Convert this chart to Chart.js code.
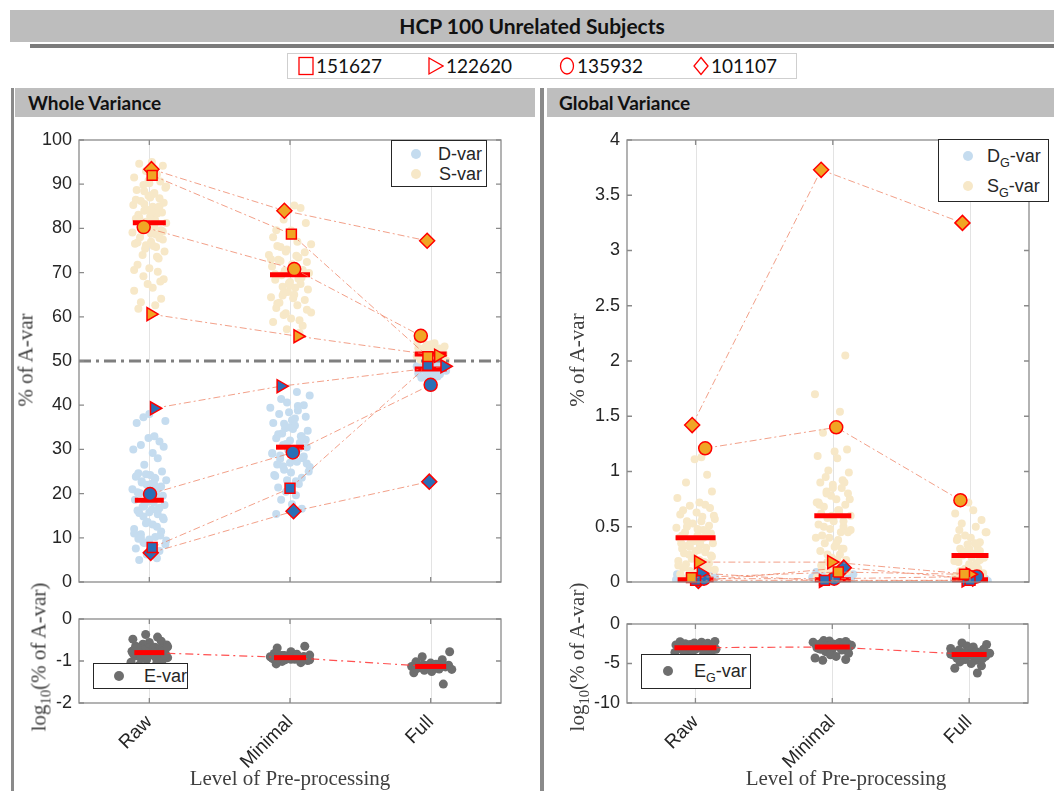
<!DOCTYPE html>
<html>
<head>
<meta charset="utf-8">
<script src="https://cdn.jsdelivr.net/npm/chart.js@4.4.1/dist/chart.umd.min.js"></script>
<style>
  body { margin: 0; width: 1054px; height: 791px; overflow: hidden; background: #fff; position: relative;
         font-family: "Liberation Sans", Arial, sans-serif; color: #262626; }
  .abs { position: absolute; }
  #title { left: 10px; top: 10px; width: 1044px; height: 32px; background: #bdbdbd; text-align: center;
           font: bold 21px Lato, sans-serif; line-height: 32px; color: #111; }
  #titleRule { left: 30px; top: 44px; width: 1024px; height: 4px; background: #7b7b7b; }
  #subjects { left: 287px; top: 53px; width: 508px; height: 24px; border: 1px solid #cfcfcf; background: #fff; }
  .subj { position: absolute; top: 1px; font: 19px Lato, sans-serif; line-height: 22px; display: flex; align-items: center; gap: 2px; color: #111; }
  .side { top: 88px; height: 703px; background: #8a8a8a; }
  .head { top: 88px; height: 29px; background: #bebebe; font: bold 19px Lato, sans-serif; line-height: 29px; color: #111; }
  .ytitle { font: 21px "Liberation Serif", serif; color: #404040; white-space: nowrap; transform: translate(-50%, -50%) rotate(-90deg); }
  .xtitle { font: 21px "Liberation Serif", serif; color: #404040; white-space: nowrap; transform: translate(-50%, -50%); }
  .lg { background: #fff; border: 1px solid #262626; box-sizing: border-box; }
  .lg .dot { position: absolute; width: 10px; height: 10px; border-radius: 50%; }
  .lg .txt { position: absolute; font-size: 18px; line-height: 20px; white-space: nowrap; }
  sub { font-size: 70%; vertical-align: -5px; line-height: 0; }
</style>
</head>
<body>
<div id="title" class="abs">HCP 100 Unrelated Subjects</div>
<div id="titleRule" class="abs"></div>
<div id="subjects" class="abs">
  <div class="subj" style="left:10px"><svg width="16" height="20"><rect x="1" y="1.5" width="14" height="17" fill="none" stroke="#f00" stroke-width="1.3"/></svg>151627</div>
  <div class="subj" style="left:140px"><svg width="16" height="20"><polygon points="1,2 15,10 1,18" fill="none" stroke="#f00" stroke-width="1.3"/></svg>122620</div>
  <div class="subj" style="left:271px"><svg width="16" height="20"><ellipse cx="8" cy="10" rx="6.5" ry="8" fill="none" stroke="#f00" stroke-width="1.3"/></svg>135932</div>
  <div class="subj" style="left:405px"><svg width="16" height="20"><polygon points="8,1.5 15,10 8,18.5 1,10" fill="none" stroke="#f00" stroke-width="1.3"/></svg>101107</div>
</div>

<div class="abs side" style="left:11px;width:3px"></div>
<div class="abs side" style="left:540px;width:4px"></div>
<div class="abs head" style="left:15px;width:520px"><span style="margin-left:13px">Whole Variance</span></div>
<div class="abs head" style="left:547px;width:507px"><span style="margin-left:12px">Global Variance</span></div>

<div class="abs" style="left:0;top:115px"><canvas id="wholeTop" width="540" height="492"></canvas></div>
<div class="abs" style="left:0;top:598px"><canvas id="wholeLog" width="540" height="193"></canvas></div>
<div class="abs" style="left:545px;top:115px"><canvas id="globalTop" width="509" height="492"></canvas></div>
<div class="abs" style="left:545px;top:598px"><canvas id="globalLog" width="509" height="193"></canvas></div>

<div class="abs ytitle" style="left:26px;top:360px">% of A-var</div>
<div class="abs ytitle" style="left:39px;top:657px">log<sub>10</sub>(% of A-var)</div>
<div class="abs ytitle" style="left:577px;top:360px">% of A-var</div>
<div class="abs ytitle" style="left:577px;top:657px">log<sub>10</sub>(% of A-var)</div>
<div class="abs xtitle" style="left:290px;top:778px">Level of Pre-processing</div>
<div class="abs xtitle" style="left:846px;top:778px">Level of Pre-processing</div>

<div class="abs lg" style="left:391px;top:140px;width:96px;height:47px">
  <div class="dot" style="left:19px;top:8px;background:#c5dcef"></div><div class="txt" style="right:4px;top:3px">D-var</div>
  <div class="dot" style="left:19px;top:28px;background:#f7e8c8"></div><div class="txt" style="right:4px;top:23px">S-var</div>
</div>
<div class="abs lg" style="left:938px;top:139px;width:111px;height:63px">
  <div class="dot" style="left:24px;top:11px;background:#c5dcef"></div><div class="txt" style="left:48px;top:6px">D<sub>G</sub>-var</div>
  <div class="dot" style="left:24px;top:41px;background:#f7e8c8"></div><div class="txt" style="left:48px;top:36px">S<sub>G</sub>-var</div>
</div>
<div class="abs lg" style="left:93px;top:663px;width:95px;height:26px">
  <div class="dot" style="left:20px;top:7px;background:#6e6e6e"></div><div class="txt" style="left:50px;top:2px">E-var</div>
</div>
<div class="abs lg" style="left:641px;top:654px;width:110px;height:35px">
  <div class="dot" style="left:21px;top:11px;background:#6e6e6e"></div><div class="txt" style="left:52px;top:6px">E<sub>G</sub>-var</div>
</div>

<script>
const cats = ['Raw', 'Minimal', 'Full'];
const subjectIds = ['151627', '122620', '135932', '101107'];

// Whole variance: S-var and D-var, % of A-var
const sVarRaw = [95.0,94.6,94.2,93.0,92.2,91.5,90.6,90.2,89.8,89.2,88.7,88.0,87.4,86.8,86.2,85.8,85.3,84.9,84.4,84.0,83.6,83.1,82.7,82.2,81.8,81.2,80.7,80.1,79.6,79.1,78.6,78.0,77.5,77.0,76.5,76.0,75.4,74.8,74.0,73.2,71.8,71.0,70.2,69.2,68.5,67.4,66.6,65.9,64.1,63.3,62.6,61.8,
                 89.5,88.4,87.0,86.5,85.0,84.2,83.3,82.5,81.5,80.4,79.8,78.8,77.8,76.8,75.8,90.8,87.8,85.5,83.8,82.0,79.3,76.2,73.6,70.6,68.0];
const sVarMin = [85.2,84.6,82.0,81.2,79.6,79.5,78.0,77.0,76.4,75.8,75.2,74.6,74.0,73.4,72.9,72.4,71.9,71.4,70.9,70.4,69.9,69.4,68.9,68.4,67.9,67.4,66.8,66.2,65.6,65.0,64.4,63.8,63.2,62.6,62.0,61.0,60.4,59.6,58.8,58.0,57.2,56.4,
                 76.0,74.8,73.8,72.6,71.6,70.6,69.6,68.6,67.6,66.6,65.4,64.2,63.0,61.6,60.8,59.2,73.0,70.0,67.0,64.8];
const sVarFull = [54.4,54.0,53.6,53.3,53.0,52.8,52.5,52.3,52.1,51.9,51.7,51.5,51.3,51.1,50.9,50.7,50.5,50.3,50.1,49.9,
                  53.8,52.9,52.2,51.6,51.0,50.6,53.1,52.6,51.8,50.8];
const dVarRaw = [38.0,37.3,36.4,36.0,33.0,32.6,31.8,31.0,30.6,30.0,29.2,28.0,26.5,25.0,24.6,24.2,23.8,23.4,23.0,22.5,22.0,21.6,21.0,20.6,20.1,19.5,19.0,18.6,18.2,17.8,17.4,17.0,16.6,16.2,15.8,15.3,14.8,14.2,13.6,13.0,12.0,11.4,10.8,10.2,9.8,9.4,8.8,8.2,7.6,7.0,6.2,5.4,5.0,
                 24.4,23.6,22.8,22.2,21.3,20.3,19.8,18.9,18.0,17.2,16.4,15.6,14.6,13.3,12.5,11.0,10.5,9.6,9.0,8.5,24.0,22.0,18.4,16.8,10.0];
const dVarMin = [43.0,42.2,41.4,40.6,40.0,39.4,38.8,38.0,37.4,36.6,36.0,35.4,34.8,34.2,33.6,33.0,32.5,32.0,31.5,31.0,30.5,30.0,29.5,29.0,28.4,27.8,27.2,26.6,26.0,25.4,24.8,24.2,23.6,23.0,22.2,21.4,20.4,19.6,18.6,17.6,16.6,15.4,
                 39.8,38.4,37.0,35.8,34.6,33.4,32.2,31.2,30.2,29.2,28.0,27.0,26.2,25.0,24.0,22.8,35.0,33.0,28.6,26.8];
const dVarFull = [50.0,49.8,49.6,49.4,49.2,49.0,48.8,48.6,48.4,48.2,48.0,47.8,47.6,47.4,47.2,47.0,46.8,46.5,46.2,45.8,
                  49.9,49.3,48.9,48.5,48.1,47.7,47.3,46.9,49.1,48.3];
const sVarMean = [81.3, 69.5, 51.6];
const dVarMean = [18.5, 30.5, 48.2];
const refLevel = 50;

// Whole variance: E-var, log10(% of A-var)
const eVarRaw = [-0.37,-0.43,-0.48,-0.53,-0.56,-0.60,-0.62,-0.65,-0.67,-0.69,-0.71,-0.73,-0.75,-0.77,-0.78,-0.80,-0.81,-0.83,-0.84,-0.86,-0.88,-0.90,-0.92,-0.94,-0.97,-1.00,-1.03,-1.06,-1.10,-0.74,-0.79,-0.82,-0.70,-0.76,-0.85,
                 -0.72,-0.75,-0.78,-0.80,-0.82,-0.84,-0.86,-0.88,-0.79,-0.81,-0.77,-0.83,-0.91,-0.68,-0.66];
const eVarMin = [-0.65,-0.69,-0.78,-0.82,-0.84,-0.86,-0.87,-0.88,-0.89,-0.90,-0.91,-0.92,-0.93,-0.94,-0.95,-0.96,-0.97,-0.99,-1.01,-1.04,-1.07,-0.90,-0.92,-0.88,-0.95,
                 -0.89,-0.91,-0.93,-0.94,-0.92,-0.90,-0.95,-0.97,-0.87,-0.96];
const eVarFull = [-0.78,-0.90,-0.97,-1.02,-1.05,-1.07,-1.09,-1.10,-1.11,-1.12,-1.13,-1.14,-1.15,-1.16,-1.18,-1.20,-1.22,-1.25,-1.28,-1.55,-1.12,-1.15,
                  -1.10,-1.12,-1.14,-1.16,-1.13,-1.11,-1.17,-1.19,-1.15,-1.08];
const eVarMean = [-0.80, -0.92, -1.13];

// Global variance: SG-var and DG-var, % of A-var
const sgVarRaw = [1.13,1.11,0.97,0.90,0.82,0.76,0.72,0.70,0.69,0.67,0.65,0.63,0.61,0.59,0.57,0.55,0.53,0.51,0.49,0.47,0.45,0.44,0.42,0.40,0.38,0.36,0.35,0.33,0.31,0.30,0.28,0.27,0.25,0.23,0.22,0.20,0.19,0.17,0.16,0.14,0.13,0.11,0.10,0.09,0.07,0.06,0.05,0.04,0.03,0.02,
                  0.55,0.50,0.48,0.45,0.42,0.40,0.37,0.34,0.32,0.29,0.26,0.24,0.21,0.18,0.15,0.12,0.08,0.06,0.60,0.35];
const sgVarMin = [2.05,1.70,1.54,1.35,1.20,1.18,1.14,1.12,1.01,0.99,0.95,0.92,0.90,0.88,0.85,0.82,0.80,0.78,0.75,0.72,0.70,0.68,0.65,0.62,0.60,0.58,0.55,0.52,0.50,0.48,0.45,0.42,0.40,0.38,0.35,0.32,0.30,0.28,0.25,0.22,0.20,0.18,0.15,0.12,0.10,0.08,0.06,0.04,
                  0.90,0.85,0.80,0.75,0.70,0.65,0.60,0.55,0.50,0.45,0.40,0.35,0.30,0.25,0.20,0.15,0.10,0.72,0.62,0.47];
const sgVarFull = [0.72,0.65,0.62,0.56,0.53,0.50,0.47,0.45,0.42,0.40,0.38,0.36,0.34,0.32,0.30,0.28,0.26,0.24,0.22,0.20,0.18,0.17,0.16,0.14,0.12,0.11,0.10,0.08,0.07,0.06,0.05,0.04,0.03,0.02,
                   0.45,0.40,0.35,0.30,0.28,0.25,0.22,0.19,0.15,0.12,0.09,0.06];
const dgVarRaw = [0.07,0.06,0.05,0.05,0.04,0.04,0.03,0.03,0.03,0.02,0.02,0.02,0.02,0.01,0.01,0.01,0.01,0.01,0.00,0.00];
const dgVarMin = [0.11,0.09,0.08,0.07,0.06,0.05,0.05,0.04,0.04,0.03,0.03,0.03,0.02,0.02,0.02,0.01,0.01,0.01,0.00,0.00];
const dgVarFull = [0.06,0.05,0.04,0.04,0.03,0.03,0.03,0.02,0.02,0.02,0.02,0.01,0.01,0.01,0.01,0.01,0.00,0.00,0.00,0.00];
const sgVarMean = [0.40, 0.60, 0.24];
const dgVarMean = [0.02, 0.02, 0.02];

// Global variance: EG-var, log10(% of A-var)
const egVarRaw = [-2.20,-2.25,-2.30,-2.40,-2.45,-2.50,-2.60,-2.65,-2.70,-2.80,-2.85,-2.90,-3.00,-3.00,-3.10,-3.15,-3.20,-3.30,-3.40,-3.50,-3.60,-3.70,-3.90,-4.10,-4.40,-4.70,-4.90,
                  -2.60,-2.80,-2.90,-3.00,-3.10,-3.20,-2.70,-2.90,-3.00,-3.30];
const egVarMin = [-2.10,-2.15,-2.20,-2.30,-2.35,-2.40,-2.50,-2.55,-2.60,-2.70,-2.80,-2.85,-2.90,-3.00,-3.10,-3.20,-3.30,-3.50,-3.70,-3.90,-4.10,-4.30,-4.50,-4.60,
                  -2.40,-2.60,-2.70,-2.80,-2.90,-3.00,-2.50,-2.80,-3.10,-3.20];
const egVarFull = [-2.40,-2.60,-2.80,-2.90,-3.10,-3.20,-3.30,-3.50,-3.60,-3.70,-3.80,-3.90,-3.90,-4.00,-4.10,-4.20,-4.30,-4.50,-4.60,-4.80,-5.00,-5.30,-5.60,-6.20,
                   -3.50,-3.70,-3.80,-3.90,-4.00,-4.10,-3.60,-4.20,-3.80,-4.40];
const egVarMean = [-3.00, -2.90, -3.85];

// highlighted subjects (order of subjectIds), values at Raw / Minimal / Full
const sVarSubj  = [[92.0,78.7,51.0],[60.6,55.6,51.2],[80.3,70.8,55.7],[93.4,84.0,77.2]];
const dVarSubj  = [[7.8,21.2,49.0],[39.3,44.3,48.8],[19.9,29.3,44.6],[6.6,16.0,22.7]];
const sgVarSubj = [[0.04,0.09,0.07],[0.18,0.18,0.07],[1.21,1.40,0.74],[1.42,3.73,3.25]];
const dgVarSubj = [[0.015,0.015,0.015],[0.08,0.01,0.015],[0.03,0.03,0.05],[0.01,0.13,0.03]];

// horizontal jitter (category units) of the highlighted markers
const sVarJit  = [[0.02,0.01,-0.02],[0.01,0.055,0.055],[-0.04,0.03,-0.07],[0.015,-0.04,-0.025]];
const dVarJit  = [[0.02,0.0,-0.02],[0.035,-0.065,0.1],[0.005,0.02,0.0],[0.01,0.025,-0.01]];
const sgVarJit = [[-0.03,0.04,-0.04],[0.02,-0.01,0.0],[0.07,0.025,-0.07],[-0.025,-0.085,-0.055]];
const dgVarJit = [[0.0,-0.06,0.0],[0.04,-0.07,-0.03],[0.06,0.01,0.05],[0.02,0.08,0.02]];

// beeswarm-like jitter pattern for the clouds (fraction of the half width)
const jit = [0.15,-0.6,0.8,-0.2,0.45,-0.9,0.65,0.0,-0.35,0.95,-0.75,0.3,-0.05,0.6,-0.5,0.85,-0.95,0.2,0.5,-0.3,0.75,-0.65,0.05,-0.8,0.35,1.0,-0.45,-0.15,0.7,-1.0,0.4,-0.55,0.8,0.1,-0.85,0.25,-0.25,0.9,-0.4,0.55,-0.7,0.0,0.5,-0.35,0.85,-0.1,0.2,-0.9,0.7,-0.5,0.35,-0.65,1.0,-0.3,0.05,-0.8,0.6,-0.15,0.45,-0.6,
             -0.2,0.3,-0.45,0.1,0.6,-0.7,0.4,-0.05,0.25,-0.3];

const blueCloud = '#c5dcef';
const beigeCloud = '#f7e8c8';
const grayCloud = '#6e6e6e';
const orangeMark = '#f0a524';
const blueMark = '#2a6fb6';
const lineCol = 'rgba(238,128,98,0.75)';
const subjShapes = ['rect', 'triangle', 'circle', 'rectRot'];
const subjRot = [0, 90, 0, 0];
const subjRadius = [7, 7.5, 6.5, 7.5];

Chart.defaults.font.family = '"Liberation Sans", Arial, sans-serif';
const tickFont = { size: 18 };

function cloudSets(groups, color, spread, shift, radius) {
    return groups.map((vals, i) => ({
        data: vals.map((v, k) => ({ x: i + 1 + jit[(k + shift + i * 17) % jit.length] * spread[i], y: v })),
        pointRadius: radius,
        pointBackgroundColor: color,
        pointBorderWidth: 0,
        order: 10
    }));
}

function meanSet(means, halfWidths) {
    return {
        data: means.map((m, i) => ({ x: i + 1, y: m })),
        pointStyle: 'line',
        pointRadius: halfWidths,
        pointBorderColor: '#ff0000',
        pointBorderWidth: 5,
        clip: false,
        order: 4
    };
}

function meanLink(means) {
    return {
        data: means.map((m, i) => ({ x: i + 1, y: m })),
        showLine: true,
        borderColor: 'rgba(255,50,50,0.85)',
        borderWidth: 1.2,
        borderDash: [8, 4, 2, 4],
        pointRadius: 0,
        order: 6
    };
}

function subjectSets(vals, jits, fill) {
    return subjectIds.map((id, k) => ({
        label: id,
        data: vals[k].map((v, i) => ({ x: i + 1 + jits[k][i], y: v })),
        showLine: true,
        borderColor: lineCol,
        borderWidth: 1,
        borderDash: [7, 3, 2, 3],
        pointStyle: subjShapes[k],
        pointRotation: subjRot[k],
        pointRadius: subjRadius[k],
        pointBackgroundColor: fill,
        pointBorderColor: '#ff0000',
        pointBorderWidth: 1.5,
        clip: false,
        order: 2
    }));
}

const boxPlugin = {
    id: 'matlabBox',
    beforeDatasetsDraw(chart) {
        const { ctx, chartArea: a, scales: { x } } = chart;
        ctx.save();
        ctx.strokeStyle = '#e3e3e3';
        ctx.lineWidth = 1;
        cats.forEach((c, i) => {
            const px = Math.round(x.getPixelForValue(i + 1)) + 0.5;
            ctx.beginPath(); ctx.moveTo(px, a.top); ctx.lineTo(px, a.bottom); ctx.stroke();
        });
        ctx.restore();
    },
    afterDatasetsDraw(chart) {
        const { ctx, chartArea: a, scales: { x, y } } = chart;
        ctx.save();
        ctx.strokeStyle = '#8a8a8a';
        ctx.lineWidth = 1.3;
        ctx.strokeRect(a.left, a.top, a.right - a.left, a.bottom - a.top);
        ctx.beginPath();
        y.ticks.forEach(t => {
            const py = y.getPixelForValue(t.value);
            ctx.moveTo(a.left, py); ctx.lineTo(a.left + 5, py);
            ctx.moveTo(a.right, py); ctx.lineTo(a.right - 5, py);
        });
        cats.forEach((c, i) => {
            const px = x.getPixelForValue(i + 1);
            ctx.moveTo(px, a.bottom); ctx.lineTo(px, a.bottom - 5);
            ctx.moveTo(px, a.top); ctx.lineTo(px, a.top + 5);
        });
        ctx.stroke();
        ctx.restore();
    }
};

function makeChart(id, datasets, opt) {
    const xScale = opt.showX ? {
        type: 'linear', min: 0.5, max: opt.xMax,
        grid: { display: false, drawTicks: false }, border: { display: false },
        afterBuildTicks: s => { s.ticks = cats.map((c, i) => ({ value: i + 1 })); },
        ticks: { font: { size: 19 }, color: '#262626', maxRotation: 45, minRotation: 45, padding: 8, autoSkip: false,
                 callback: v => cats[v - 1] },
        afterFit: s => { s.height = 88; }
    } : { type: 'linear', min: 0.5, max: opt.xMax, display: false };

    return new Chart(document.getElementById(id), {
        type: 'scatter',
        data: { datasets },
        options: {
            responsive: false,
            animation: false,
            events: [],
            layout: { padding: { top: 12, right: opt.right, bottom: opt.showX ? 0 : 12, left: 0 } },
            scales: {
                x: xScale,
                y: {
                    type: 'linear', min: opt.yMin, max: opt.yMax,
                    grid: { display: false, drawTicks: false }, border: { display: false },
                    ticks: { stepSize: opt.step, font: tickFont, color: '#262626', padding: 7,
                             callback: v => String(v) },
                    afterFit: s => { s.width = opt.yWidth; }
                }
            },
            plugins: { legend: { display: false }, tooltip: { enabled: false } }
        },
        plugins: [boxPlugin]
    });
}

// Whole variance, top
makeChart('wholeTop', [
    ...subjectSets(sVarSubj, sVarJit, orangeMark),
    ...subjectSets(dVarSubj, dVarJit, blueMark),
    meanSet(sVarMean, [16.5, 20, 16]),
    meanSet(dVarMean, [14.5, 14, 16]),
    {
        data: [{ x: 0.5, y: refLevel }, { x: 3.5, y: refLevel }],
        showLine: true, borderColor: '#7f7f7f', borderWidth: 3, borderDash: [12, 5, 3, 5],
        pointRadius: 0, order: 8
    },
    ...cloudSets([sVarRaw, sVarMin, sVarFull], beigeCloud, [0.12, 0.15, 0.11], 0, 4),
    ...cloudSets([dVarRaw, dVarMin, dVarFull], blueCloud, [0.12, 0.14, 0.11], 7, 4)
], { xMax: 3.5, yMin: 0, yMax: 100, step: 10, yWidth: 79, right: 39 });

// Whole variance, E-var
makeChart('wholeLog', [
    meanSet(eVarMean, [15, 16, 15.5]),
    meanLink(eVarMean),
    ...cloudSets([eVarRaw, eVarMin, eVarFull], grayCloud, [0.13, 0.14, 0.15], 3, 4.5)
], { showX: true, xMax: 3.5, yMin: -2, yMax: 0, step: 1, yWidth: 79, right: 39 });

// Global variance, top
makeChart('globalTop', [
    ...subjectSets(sgVarSubj, sgVarJit, orangeMark),
    ...subjectSets(dgVarSubj, dgVarJit, blueMark),
    meanSet(sgVarMean, [20, 18.5, 18.5]),
    meanSet(dgVarMean, [18, 18, 18]),
    ...cloudSets([sgVarRaw, sgVarMin, sgVarFull], beigeCloud, [0.14, 0.13, 0.12], 11, 4),
    ...cloudSets([dgVarRaw, dgVarMin, dgVarFull], blueCloud, [0.15, 0.15, 0.13], 5, 4)
], { xMax: 3.43, yMin: 0, yMax: 4, step: 0.5, yWidth: 82, right: 1 });

// Global variance, EG-var
makeChart('globalLog', [
    meanSet(egVarMean, [21, 17.5, 17.5]),
    meanLink(egVarMean),
    ...cloudSets([egVarRaw, egVarMin, egVarFull], grayCloud, [0.15, 0.14, 0.15], 9, 4.5)
], { showX: true, xMax: 3.43, yMin: -10, yMax: 0, step: 5, yWidth: 82, right: 1 });
</script>
</body>
</html>
